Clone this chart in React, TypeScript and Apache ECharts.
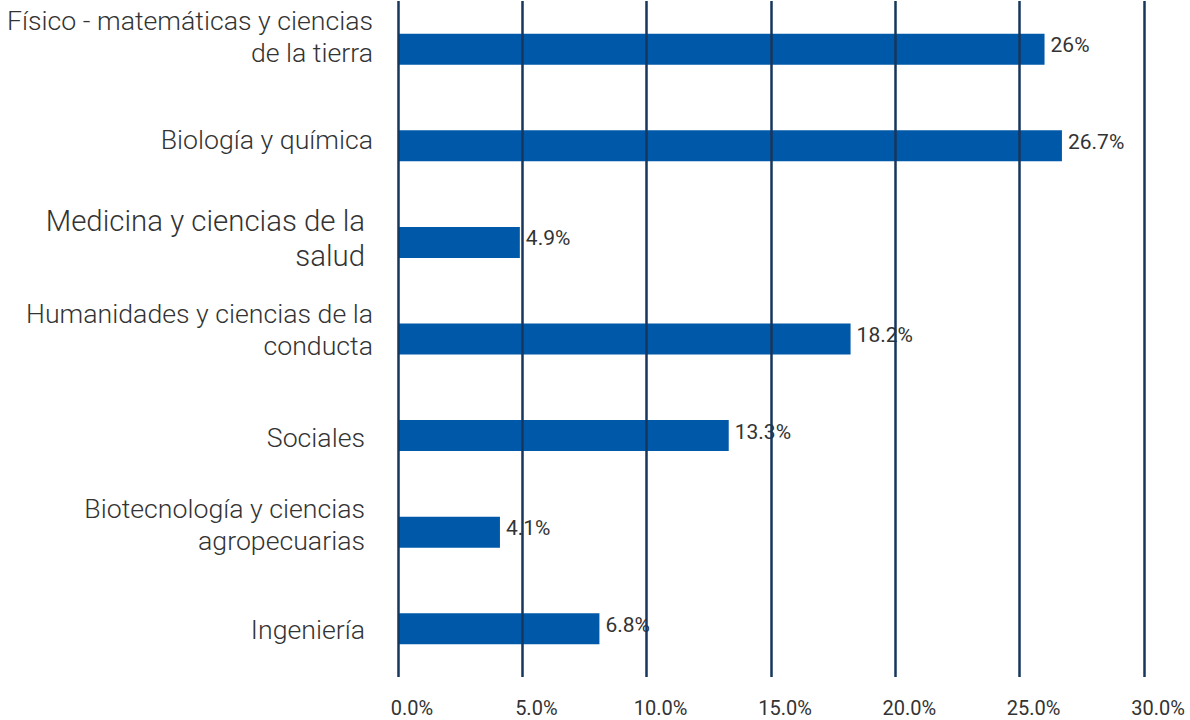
import React, { useEffect, useRef } from "react";
import * as echarts from "echarts";

const categories = [
  "Físico - matemáticas y ciencias\nde la tierra",
  "Biología y química",
  "Medicina y ciencias de la\nsalud",
  "Humanidades y ciencias de la\nconducta",
  "Sociales",
  "Biotecnología y ciencias\nagropecuarias",
  "Ingeniería",
];

// bar lengths as drawn in the picture (percent)
const barValues = [26, 26.7, 4.9, 18.2, 13.3, 4.1, 8.1];
// value labels as printed in the picture
const valueLabels = ["26%", "26.7%", "4.9%", "18.2%", "13.3%", "4.1%", "6.8%"];

const xMin = 0;
const xMax = 30;
const xStep = 5;

// per-category label tweaks (right gap, vertical shift, size, line height)
const labelTweaks = [
  { right: 0, dy: -12, size: 26.7, lh: 32 },
  { right: 0, dy: -6, size: 26.7, lh: 32 },
  { right: 8, dy: -4, size: 29.4, lh: 35 },
  { right: 0, dy: -9, size: 26.7, lh: 32 },
  { right: 8, dy: 2, size: 26.7, lh: 32 },
  { right: 8, dy: -7, size: 26.7, lh: 32 },
  { right: 8, dy: 1, size: 26.7, lh: 32 },
];

export default function App() {
  const ref = useRef<HTMLDivElement>(null);

  useEffect(() => {
    if (!ref.current) return;
    const chart = echarts.init(ref.current, null, { renderer: "svg" });

    const rich: Record<string, any> = {};
    labelTweaks.forEach((t, i) => {
      rich["t" + i] = {
        fontFamily: "Roboto",
        fontWeight: 300,
        fontSize: t.size,
        lineHeight: t.lh,
        color: "#333333",
        padding: [0, t.right, 0, 0],
      };
      rich["s" + i] = {
        fontSize: 1,
        lineHeight: Math.max(1, Math.abs(t.dy) * 2),
      };
    });

    const formatLabel = (value: string, index: number) => {
      const t = labelTweaks[index];
      const lines = value.split("\n").map((l) => `{t${index}|${l}}`);
      if (t.dy < 0) lines.push(`{s${index}| }`);
      else if (t.dy > 0) lines.unshift(`{s${index}| }`);
      return lines.join("\n");
    };

    chart.setOption({
      animation: false,
      backgroundColor: "#ffffff",
      grid: { left: 398, right: 46, top: 1, bottom: 43, containLabel: false },
      xAxis: {
        type: "value",
        min: xMin,
        max: xMax,
        interval: xStep,
        z: 5,
        axisLine: { show: false },
        axisTick: { show: false },
        splitLine: { show: true, lineStyle: { color: "#17365d", width: 2.5 } },
        axisLabel: {
          formatter: (v: number) => v.toFixed(1) + "%",
          fontFamily: "Roboto",
          fontSize: 20,
          color: "#333333",
          margin: 21,
          padding: [0, 0, 0, 28],
        },
      },
      yAxis: {
        type: "category",
        inverse: true,
        data: categories,
        axisLine: { show: false },
        axisTick: { show: false },
        splitLine: { show: false },
        axisLabel: {
          margin: 25,
          align: "right",
          formatter: formatLabel,
          rich,
        },
      },
      series: [
        {
          type: "bar",
          data: barValues,
          barWidth: 31,
          itemStyle: { color: "#0058a8" },
          label: {
            show: true,
            position: "right",
            distance: 6,
            offset: [0, -4],
            fontFamily: "Roboto",
            fontSize: 21,
            color: "#333333",
            formatter: (p: any) => valueLabels[p.dataIndex],
          },
        },
      ],
    });

    return () => chart.dispose();
  }, []);

  return (
    <div
      ref={ref}
      style={{ position: "absolute", left: 0, top: 0, width: 1190, height: 720 }}
    />
  );
}
